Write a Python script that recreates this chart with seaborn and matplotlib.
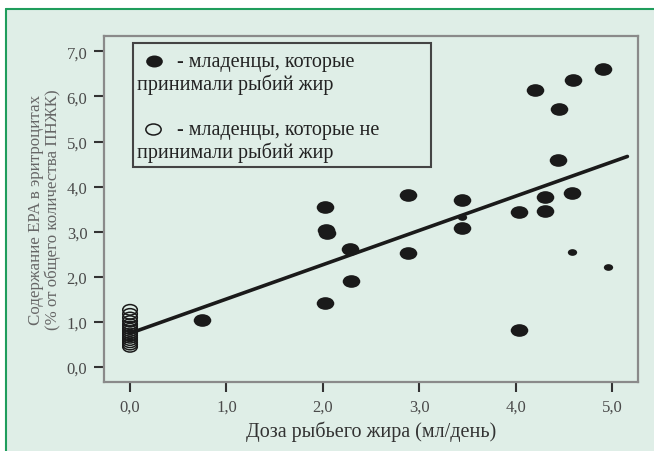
import numpy as np
import pandas as pd
import matplotlib
matplotlib.use("Agg")
import matplotlib.pyplot as plt
import seaborn as sns
from matplotlib.path import Path
from matplotlib.transforms import Affine2D
from matplotlib.patches import Rectangle
from matplotlib.lines import Line2D

# infants who took fish oil (dose ml/day, EPA %)
fed_dose = [0.75, 2.02, 2.03, 2.04, 2.28, 2.29, 2.02, 2.88, 2.88, 3.44, 3.44,
            4.04, 4.30, 4.30, 4.59, 4.44, 4.20, 4.45, 4.60, 4.91, 4.04]
fed_epa = [1.05, 3.55, 3.04, 2.98, 2.62, 1.90, 1.42, 3.81, 2.53, 3.70, 3.08,
           3.44, 3.77, 3.46, 3.86, 4.59, 6.14, 5.72, 6.36, 6.61, 0.82]
# smaller dots
small_dose = [4.59, 4.96, 3.44]
small_epa = [2.55, 2.22, 3.33]

# infants without fish oil
ctrl_epa = [1.27, 1.18, 1.10, 1.02, 0.95, 0.90, 0.85, 0.80, 0.75, 0.70,
            0.65, 0.60, 0.55, 0.50, 0.45]
ctrl_dose = [0.0] * len(ctrl_epa)

# regression line
fit_x = [0.0, 5.16]
fit_y = [0.75, 4.67]

x_ticks = [0, 1, 2, 3, 4, 5]
x_labels = ["0,0", "1,0", "2,0", "3,0", "4,0", "5,0"]
y_ticks = [0, 1, 2, 3, 4, 5, 6, 7]
y_labels = ["0,0", "1,0", "2,0", "3,0", "4,0", "5,0", "6,0", "7,0"]

bg = "#dfeee7"
ink = "#1a1a1a"
gray_txt = "#4a4a4a"

sns.set_theme(style="ticks")
plt.rcParams["font.family"] = ["Liberation Serif", "DejaVu Serif"]

fig = plt.figure(figsize=(6.54, 4.52), dpi=100)
fig.patch.set_facecolor("white")
# light green panel with green frame on top/left
fig.patches.append(Rectangle((6 / 654, 0), 1, (452 - 10) / 452, transform=fig.transFigure,
                             facecolor=bg, edgecolor="none", zorder=-2))
fig.lines.append(Line2D([6 / 654, 1], [(452 - 10) / 452] * 2, transform=fig.transFigure,
                        color="#1f9d5c", lw=1.5))
fig.lines.append(Line2D([6 / 654] * 2, [0, (452 - 10) / 452], transform=fig.transFigure,
                        color="#1f9d5c", lw=1.5))

ax = fig.add_axes([104 / 654, (452 - 383) / 452, (638 - 104) / 654, (383 - 37) / 452])
ax.set_facecolor(bg)

ell = Path.unit_circle().transformed(Affine2D().scale(1.0, 0.72))

df_fed = pd.DataFrame({"dose": fed_dose, "epa": fed_epa})
df_small = pd.DataFrame({"dose": small_dose, "epa": small_epa})
df_ctrl = pd.DataFrame({"dose": ctrl_dose, "epa": ctrl_epa})
df_fit = pd.DataFrame({"x": fit_x, "y": fit_y})

sns.lineplot(data=df_fit, x="x", y="y", ax=ax, color=ink, lw=2.6, zorder=2)
sns.scatterplot(data=df_fed, x="dose", y="epa", ax=ax, marker=ell, s=160,
                color=ink, edgecolor=ink, linewidth=0, zorder=3)
sns.scatterplot(data=df_small, x="dose", y="epa", ax=ax, marker=ell, s=45,
                color=ink, edgecolor=ink, linewidth=0, zorder=3)
sns.scatterplot(data=df_ctrl, x="dose", y="epa", ax=ax, marker=ell, s=110,
                facecolor="none", edgecolor=ink, linewidth=1.1, zorder=3)

ax.set_xlim(-0.27, 5.27)
ax.set_ylim(-0.33, 7.34)
ax.set_xticks(x_ticks)
ax.set_xticklabels(x_labels)
ax.set_yticks(y_ticks)
ax.set_yticklabels(y_labels)
ax.tick_params(axis="both", direction="out", length=7, width=1.5, color="#333333",
               labelsize=12, labelcolor=gray_txt, pad=5)
for sp in ax.spines.values():
    sp.set_visible(True)
    sp.set_color("#8a8a8a")
    sp.set_linewidth(1.6)

ax.set_xlabel("Доза рыбьего жира (мл/день)", fontsize=14.5, color="#333333", labelpad=4)
ax.set_ylabel("Содержание EPA в эритроцитах\n(% от общего количества ПНЖК)",
              fontsize=12.2, color="#666666", labelpad=4, linespacing=1.05)

# legend box drawn by hand
tr = ax.transAxes
def px(x, y):
    return ((x - 104) / 534, (383 - y) / 346)

x0, y0 = px(133, 168)
x1, y1 = px(431, 44)
ax.add_patch(Rectangle((x0, y0), x1 - x0, y1 - y0, transform=tr, facecolor="none",
                       edgecolor="#444444", lw=1.5, zorder=4))
ax.plot(*px(154, 62), transform=tr, marker=ell, ms=12, color=ink, mew=0, clip_on=False)
ax.plot(*px(153, 130), transform=tr, marker=ell, ms=11, mfc="none", mec=ink, mew=1.1,
        clip_on=False)
leg_kw = dict(transform=tr, fontsize=14.5, color="#222222", va="center", ha="left")
ax.text(*px(177, 62), "- младенцы, которые", **leg_kw)
ax.text(*px(137, 85), "принимали рыбий жир", **leg_kw)
ax.text(*px(177, 130), "- младенцы, которые не", **leg_kw)
ax.text(*px(137, 153), "принимали рыбий жир", **leg_kw)

fig.savefig("out.png", dpi=100, facecolor=fig.get_facecolor())
